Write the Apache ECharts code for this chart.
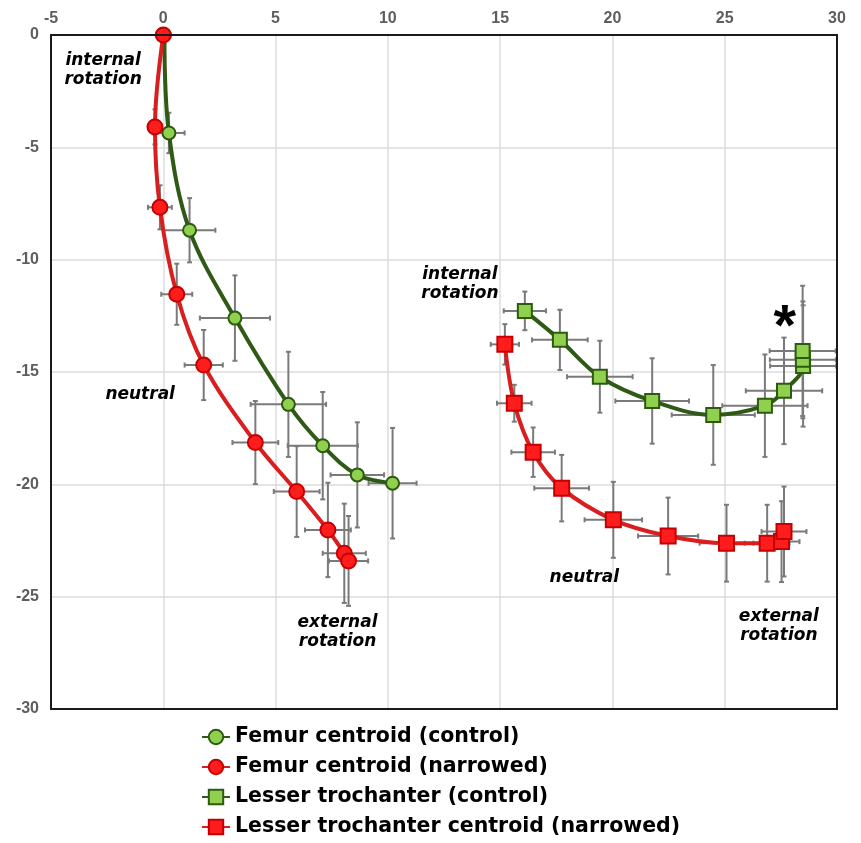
<!DOCTYPE html>
<html>
<head>
<meta charset="utf-8">
<script src="https://cdn.jsdelivr.net/npm/echarts@6/dist/echarts.min.js"></script>
<style>html,body{margin:0;background:#fff}#chart{width:861px;height:843px}</style>
</head>
<body>
<div id="chart"></div>
<script>
/* ---------- dados ---------- */
const femurCtrlX    = [0.05, 0.25, 1.17, 3.19, 5.57, 7.10, 8.64, 10.21];
const femurCtrlY    = [0, -4.36, -8.69, -12.60, -16.44, -18.28, -19.58, -19.95];
const femurCtrlXErr = [0, 0.70, 1.15, 1.56, 1.68, 1.56, 1.19, 1.07];
const femurCtrlYErr = [0, 0.90, 1.43, 1.90, 2.34, 2.39, 2.34, 2.46];

const femurNarX    = [0, -0.37, -0.15, 0.60, 1.80, 4.10, 5.94, 7.33, 8.06, 8.25];
const femurNarY    = [0, -4.09, -7.67, -11.54, -14.69, -18.14, -20.32, -22.03, -23.07, -23.41];
const femurNarXErr = [0, 0.20, 0.53, 0.69, 0.85, 1.02, 1.02, 1.02, 0.96, 0.87];
const femurNarYErr = [0, 0.78, 0.98, 1.36, 1.56, 1.85, 2.02, 2.10, 2.21, 2.00];

const ltCtrlX    = [16.10, 17.66, 19.44, 21.77, 24.49, 26.79, 27.64, 28.49, 28.48, 28.47];
const ltCtrlY    = [-12.28, -13.57, -15.21, -16.29, -16.91, -16.50, -15.84, -14.73, -14.46, -14.06];
const ltCtrlXErr = [0.94, 1.24, 1.46, 1.64, 1.85, 1.90, 1.70, 1.47, 1.47, 1.47];
const ltCtrlYErr = [0.86, 1.34, 1.60, 1.90, 2.22, 2.28, 2.37, 2.70, 2.60, 2.90];

const ltNarX    = [15.21, 15.63, 16.47, 17.74, 20.04, 22.48, 25.08, 26.89, 27.53, 27.64];
const ltNarY    = [-13.77, -16.39, -18.57, -20.17, -21.58, -22.30, -22.62, -22.62, -22.55, -22.10];
const ltNarXErr = [0.63, 0.77, 0.97, 1.22, 1.28, 1.34, 1.20, 1.00, 0.80, 1.00];
const ltNarYErr = [0.90, 0.82, 1.10, 1.48, 1.69, 1.71, 1.71, 1.71, 1.80, 2.00];

const seriesNames = ['Femur centroid (control)', 'Femur centroid (narrowed)',
                     'Lesser trochanter (control)', 'Lesser trochanter centroid (narrowed)'];

const noteText = ['internal\nrotation', 'neutral', 'external\nrotation',
                  'internal\nrotation', 'neutral', 'external\nrotation', '*'];
const noteX = [-2.68, -1.03, 7.76, 13.21, 18.75, 27.41, 27.68];
const noteY = [-1.56, -16.02, -26.57, -11.08, -24.17, -26.30, -12.54];

/* ---------- helpers ---------- */
const GREEN = {line:'#2f5a16', fill:'#8fd14f', border:'#2d5a10'};
const RED   = {line:'#d81e1e', fill:'#ff1c1c', border:'#c40000'};
const pts  = (xs, ys) => xs.map((x, i) => [x, ys[i]]);
const errs = (xs, ys, xe, ye) => xs.map((x, i) => [x, ys[i], xe[i], ye[i]]);

function errRender(params, api){
  const x = api.value(0), y = api.value(1), xe = api.value(2), ye = api.value(3);
  const st = {stroke:'#7a7a7a', lineWidth:2};
  const cap = 2.5, kids = [];
  if (xe > 0){
    const l = api.coord([x - xe, y]), r = api.coord([x + xe, y]);
    kids.push({type:'line', shape:{x1:l[0], y1:l[1], x2:r[0], y2:r[1]}, style:st});
    kids.push({type:'line', shape:{x1:l[0], y1:l[1]-cap, x2:l[0], y2:l[1]+cap}, style:st});
    kids.push({type:'line', shape:{x1:r[0], y1:r[1]-cap, x2:r[0], y2:r[1]+cap}, style:st});
  }
  if (ye > 0){
    const t = api.coord([x, y + ye]), b = api.coord([x, y - ye]);
    kids.push({type:'line', shape:{x1:t[0], y1:t[1], x2:b[0], y2:b[1]}, style:st});
    kids.push({type:'line', shape:{x1:t[0]-cap, y1:t[1], x2:t[0]+cap, y2:t[1]}, style:st});
    kids.push({type:'line', shape:{x1:b[0]-cap, y1:b[1], x2:b[0]+cap, y2:b[1]}, style:st});
  }
  return {type:'group', children:kids};
}
const errSeries = data => ({type:'custom', renderItem:errRender, data, clip:true, silent:true,
  z:1, encode:{x:0, y:1}});

function noteRender(params, api){
  const i = params.dataIndex, t = noteText[i];
  const p = api.coord([api.value(0), api.value(1)]);
  const star = t === '*';
  return {type:'text', x:p[0], y:p[1] + (star ? 12 : 0), style:{
    text:t, fill:'#000', align:'center', verticalAlign:'middle',
    fontSize: star ? 58 : 17, fontWeight:'bold', fontStyle: star ? 'normal' : 'italic',
    fontFamily: star ? 'Liberation Sans' : 'DejaVu Sans', lineHeight:19}};
}

const lineSeries = (name, data, c, symbol, size) => ({
  name, type:'line', data, smooth:0.35, symbol, symbolSize:size, z:3,
  lineStyle:{color:c.line, width:4},
  itemStyle:{color:c.fill, borderColor:c.border, borderWidth:2}
});

const AXL = {color:'#5e5e5e', fontSize:16, fontWeight:'bold', fontFamily:'Liberation Sans'};

const option = {
  animation:false,
  backgroundColor:'#fff',
  grid:{left:51, right:24, top:35, bottom:134, show:true, borderColor:'#1a1a1a', borderWidth:2, z:6},
  xAxis:{type:'value', position:'top', min:-5, max:30, interval:5,
    axisLine:{show:false}, axisTick:{show:false},
    axisLabel:{...AXL, margin:8},
    splitLine:{lineStyle:{color:'#dcdcdc', width:1.5}}},
  yAxis:{type:'value', min:-30, max:0, interval:5,
    axisLine:{show:false}, axisTick:{show:false},
    axisLabel:{...AXL, margin:12},
    splitLine:{lineStyle:{color:'#dcdcdc', width:1.5}}},
  legend:{data:seriesNames, orient:'vertical', left:196, top:721.5, itemWidth:28, itemHeight:18,
    itemGap:9, textStyle:{color:'#000', fontSize:20.5, fontWeight:'bold', fontFamily:'DejaVu Sans'}},
  series:[
    errSeries(errs(femurCtrlX, femurCtrlY, femurCtrlXErr, femurCtrlYErr)),
    errSeries(errs(femurNarX, femurNarY, femurNarXErr, femurNarYErr)),
    errSeries(errs(ltCtrlX, ltCtrlY, ltCtrlXErr, ltCtrlYErr)),
    errSeries(errs(ltNarX, ltNarY, ltNarXErr, ltNarYErr)),
    lineSeries(seriesNames[0], pts(femurCtrlX, femurCtrlY), GREEN, 'circle', 13),
    lineSeries(seriesNames[1], pts(femurNarX, femurNarY), RED, 'circle', 15),
    lineSeries(seriesNames[2], pts(ltCtrlX, ltCtrlY), GREEN, 'rect', 14),
    lineSeries(seriesNames[3], pts(ltNarX, ltNarY), RED, 'rect', 15),
    {type:'custom', renderItem:noteRender, silent:true, z:5, encode:{x:0, y:1},
     data:pts(noteX, noteY)}
  ]
};

echarts.init(document.getElementById('chart'), null, {renderer:'canvas'}).setOption(option);
</script>
</body>
</html>
